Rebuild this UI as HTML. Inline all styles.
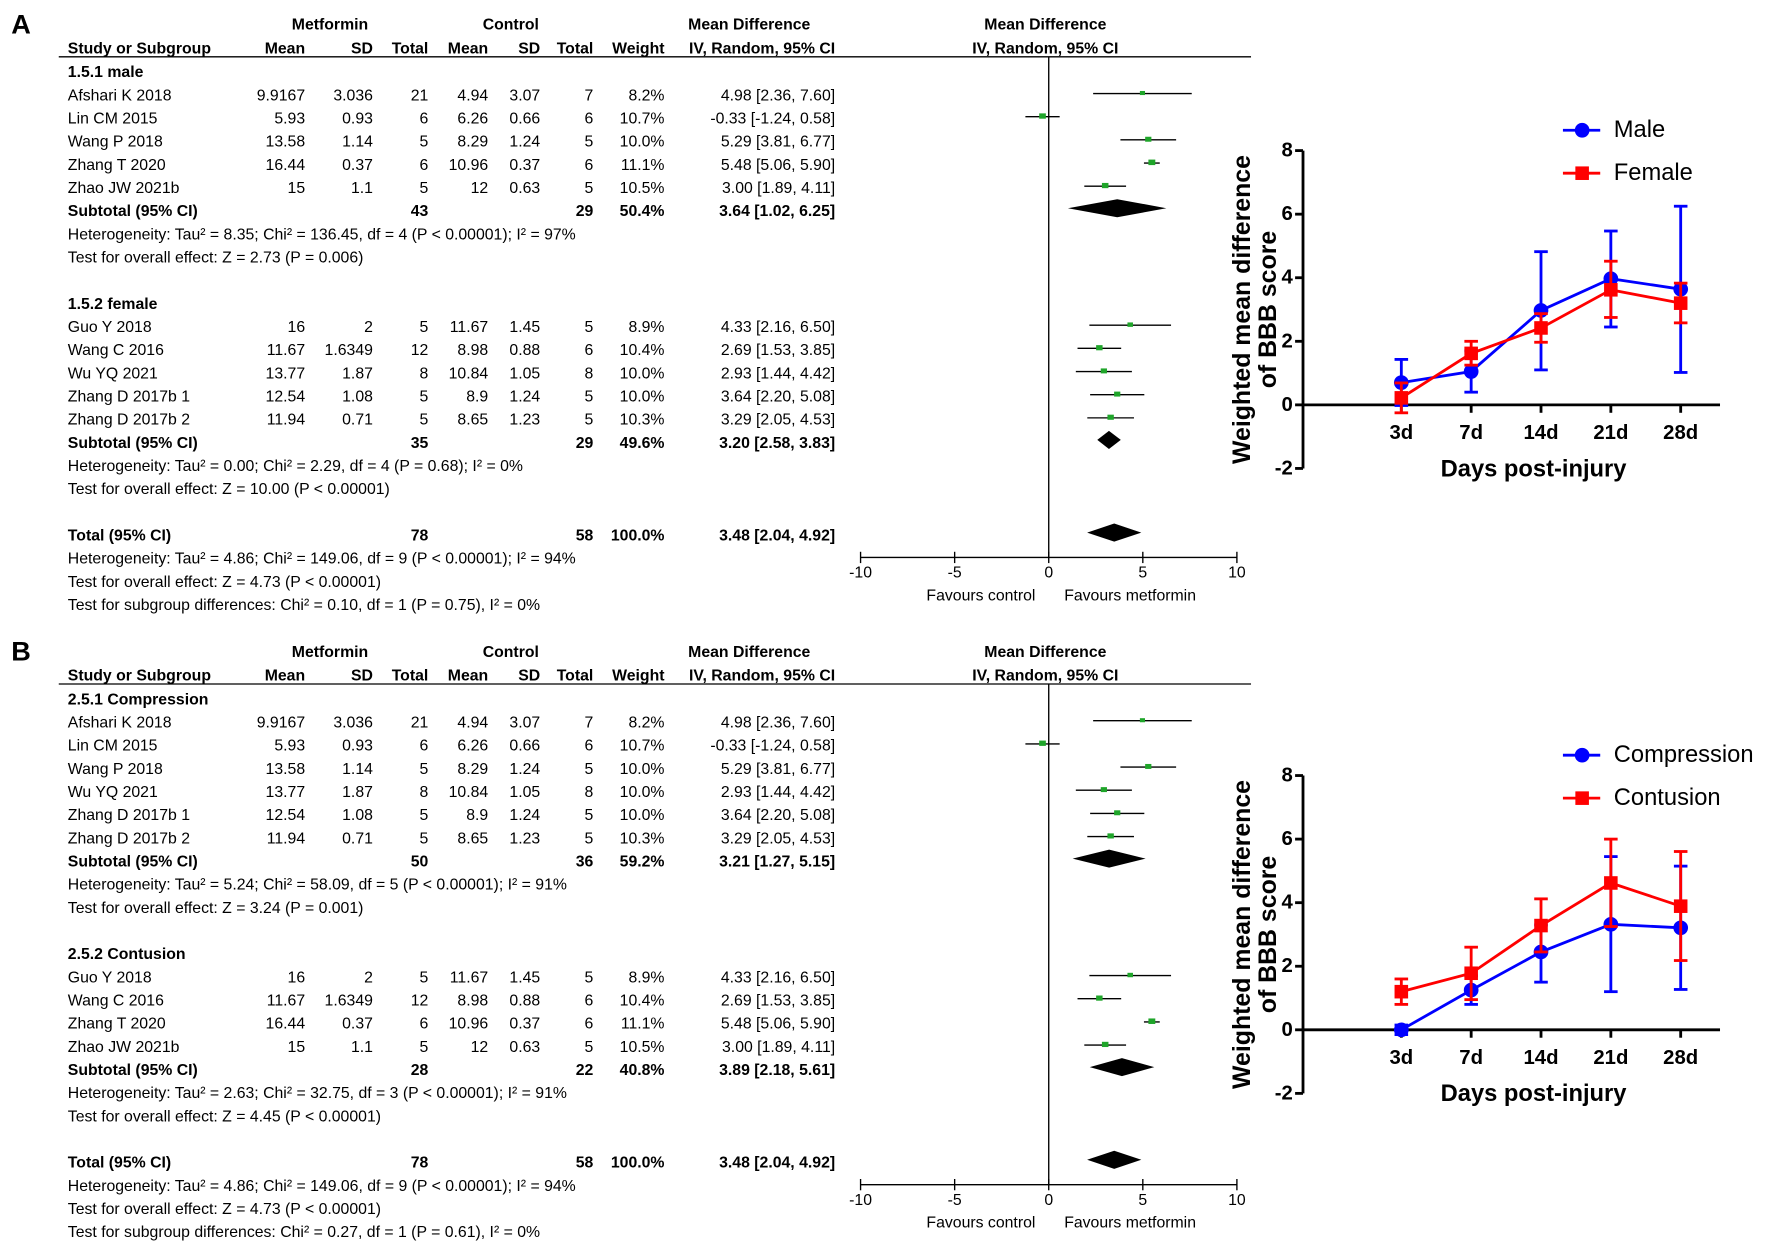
<!DOCTYPE html>
<html><head><meta charset="utf-8"><style>
html,body{margin:0;padding:0;background:#fff;}
svg{display:block;}
text{font-family:"Liberation Sans Narrow","Liberation Sans",Arial,sans-serif;}
.w{font-family:"Liberation Sans",Arial,sans-serif;}
</style></head><body>
<svg id="fig" width="1772" height="1255" viewBox="0 0 1568 1110" xmlns="http://www.w3.org/2000/svg">
<rect x="0" y="0" width="1568" height="1110" fill="#fff"/>
</svg>
<script>
// ---------- Forest plot data ----------
const groupA1 = "1.5.1 male";
const studiesA1 = [
 ["Afshari K 2018","9.9167","3.036",21,"4.94","3.07",7,"8.2%",4.98,2.36,7.60],
 ["Lin CM 2015","5.93","0.93",6,"6.26","0.66",6,"10.7%",-0.33,-1.24,0.58],
 ["Wang P 2018","13.58","1.14",5,"8.29","1.24",5,"10.0%",5.29,3.81,6.77],
 ["Zhang T 2020","16.44","0.37",6,"10.96","0.37",6,"11.1%",5.48,5.06,5.90],
 ["Zhao JW 2021b","15","1.1",5,"12","0.63",5,"10.5%",3.00,1.89,4.11]];
const subA1 = [43,29,"50.4%",3.64,1.02,6.25];
const hetA1 = ["Heterogeneity: Tau² = 8.35; Chi² = 136.45, df = 4 (P < 0.00001); I² = 97%","Test for overall effect: Z = 2.73 (P = 0.006)"];
const groupA2 = "1.5.2 female";
const studiesA2 = [
 ["Guo Y 2018","16","2",5,"11.67","1.45",5,"8.9%",4.33,2.16,6.50],
 ["Wang C 2016","11.67","1.6349",12,"8.98","0.88",6,"10.4%",2.69,1.53,3.85],
 ["Wu YQ 2021","13.77","1.87",8,"10.84","1.05",8,"10.0%",2.93,1.44,4.42],
 ["Zhang D 2017b 1","12.54","1.08",5,"8.9","1.24",5,"10.0%",3.64,2.20,5.08],
 ["Zhang D 2017b 2","11.94","0.71",5,"8.65","1.23",5,"10.3%",3.29,2.05,4.53]];
const subA2 = [35,29,"49.6%",3.20,2.58,3.83];
const hetA2 = ["Heterogeneity: Tau² = 0.00; Chi² = 2.29, df = 4 (P = 0.68); I² = 0%","Test for overall effect: Z = 10.00 (P < 0.00001)"];
const totalA = [78,58,"100.0%",3.48,2.04,4.92];
const totHetA = ["Heterogeneity: Tau² = 4.86; Chi² = 149.06, df = 9 (P < 0.00001); I² = 94%","Test for overall effect: Z = 4.73 (P < 0.00001)","Test for subgroup differences: Chi² = 0.10, df = 1 (P = 0.75), I² = 0%"];

const groupB1 = "2.5.1 Compression";
const studiesB1 = [
 ["Afshari K 2018","9.9167","3.036",21,"4.94","3.07",7,"8.2%",4.98,2.36,7.60],
 ["Lin CM 2015","5.93","0.93",6,"6.26","0.66",6,"10.7%",-0.33,-1.24,0.58],
 ["Wang P 2018","13.58","1.14",5,"8.29","1.24",5,"10.0%",5.29,3.81,6.77],
 ["Wu YQ 2021","13.77","1.87",8,"10.84","1.05",8,"10.0%",2.93,1.44,4.42],
 ["Zhang D 2017b 1","12.54","1.08",5,"8.9","1.24",5,"10.0%",3.64,2.20,5.08],
 ["Zhang D 2017b 2","11.94","0.71",5,"8.65","1.23",5,"10.3%",3.29,2.05,4.53]];
const subB1 = [50,36,"59.2%",3.21,1.27,5.15];
const hetB1 = ["Heterogeneity: Tau² = 5.24; Chi² = 58.09, df = 5 (P < 0.00001); I² = 91%","Test for overall effect: Z = 3.24 (P = 0.001)"];
const groupB2 = "2.5.2 Contusion";
const studiesB2 = [
 ["Guo Y 2018","16","2",5,"11.67","1.45",5,"8.9%",4.33,2.16,6.50],
 ["Wang C 2016","11.67","1.6349",12,"8.98","0.88",6,"10.4%",2.69,1.53,3.85],
 ["Zhang T 2020","16.44","0.37",6,"10.96","0.37",6,"11.1%",5.48,5.06,5.90],
 ["Zhao JW 2021b","15","1.1",5,"12","0.63",5,"10.5%",3.00,1.89,4.11]];
const subB2 = [28,22,"40.8%",3.89,2.18,5.61];
const hetB2 = ["Heterogeneity: Tau² = 2.63; Chi² = 32.75, df = 3 (P < 0.00001); I² = 91%","Test for overall effect: Z = 4.45 (P < 0.00001)"];
const totalB = [78,58,"100.0%",3.48,2.04,4.92];
const totHetB = ["Heterogeneity: Tau² = 4.86; Chi² = 149.06, df = 9 (P < 0.00001); I² = 94%","Test for overall effect: Z = 4.73 (P < 0.00001)","Test for subgroup differences: Chi² = 0.27, df = 1 (P = 0.61), I² = 0%"];
const forestTicks = [-10,-5,0,5,10];

// ---------- Line chart data ----------
const days = ["3d","7d","14d","21d","28d"];
const yTicks = [-2,0,2,4,6,8];
const maleMean = [0.70,1.05,2.97,3.97,3.64];
const maleLo = [-0.02,0.40,1.10,2.45,1.02];
const maleHi = [1.43,1.70,4.82,5.47,6.25];
const femaleMean = [0.22,1.62,2.42,3.62,3.20];
const femaleLo = [-0.25,1.25,1.97,2.75,2.58];
const femaleHi = [0.69,2.00,2.87,4.52,3.83];
const compMean = [0.00,1.25,2.45,3.32,3.21];
const compLo = [-0.15,0.80,1.50,1.20,1.27];
const compHi = [0.15,1.70,3.30,5.45,5.15];
const contMean = [1.20,1.78,3.28,4.62,3.89];
const contLo = [0.80,0.95,2.45,3.25,2.18];
const contHi = [1.60,2.60,4.12,6.00,5.61];

const NS="http://www.w3.org/2000/svg";
const svg=document.getElementById('fig');
function el(tag,attrs,parent){const e=document.createElementNS(NS,tag);for(const k in attrs)e.setAttribute(k,attrs[k]);(parent||svg).appendChild(e);return e;}
function txt(x,y,s,o,parent){o=o||{};const t=el('text',{x:x,y:y,'font-size':o.size||14,'text-anchor':o.anchor||'start','dominant-baseline':'central','font-weight':o.bold?'bold':'normal',fill:'#000'},parent);
 if(o.cls)t.setAttribute('class',o.cls);if(o.transform)t.setAttribute('transform',o.transform);t.textContent=s;return t;}

function forest(top, letter, labelsY, groups, total, totHet){
 const g=el('g',{});
 
 
 const fx=v=>928+v*16.65;
 let t=txt(10,top-1,letter,{size:24,bold:true,cls:'w'},g);
 
 const h1=top, h2=top+21;
 [["Metformin",292],["Control",452],["Mean Difference",663]].forEach(a=>{const e=txt(a[1],h1,a[0],{anchor:'middle',bold:true},g);});
 let e=txt(925,h1,"Mean Difference",{anchor:'middle',bold:true,cls:'w',size:14},g);
 e=txt(925,h2,"IV, Random, 95% CI",{anchor:'middle',bold:true,cls:'w',size:14},g);
 const cols=[[60,'start',"Study or Subgroup"],[270,'end',"Mean"],[330,'end',"SD"],[379,'end',"Total"],[432,'end',"Mean"],[478,'end',"SD"],[525,'end',"Total"],[588,'end',"Weight"],[739,'end',"IV, Random, 95% CI"]];
 cols.forEach(c=>{const x=txt(c[0],h2,c[2],{anchor:c[1],bold:true},g);});
 const hl=el('line',{x1:52,y1:top+28,x2:1107,y2:top+28,stroke:'#000','stroke-width':1.2},g);
 
 const r0=labelsY, step=20.5;
 const ry=i=>r0+i*step;
 const ciStr=(m,l,h)=>m.toFixed(2)+" ["+l.toFixed(2)+", "+h.toFixed(2)+"]";
 let idx=0;
 function diamond(s,y,name){const p=el('polygon',{points:`${fx(s[4])},${y} ${fx(s[3])},${y-8} ${fx(s[5])},${y} ${fx(s[3])},${y+8}`,fill:'#000'},g);
  }
 function sumRow(s,y,label,name){
  const a=txt(60,y,label,{bold:true},g);
  [[379,s[0]],[525,s[1]],[588,s[2]],[739,ciStr(s[3],s[4],s[5])]].forEach(c=>{const x=txt(c[0],y,String(c[1]),{anchor:'end',bold:true},g);});
  diamond(s,y-3,name+'-diamond');
 }
 groups.forEach((gr,gi)=>{
  let y=ry(idx);const gl=txt(60,y,gr.label,{bold:true},g);idx++;
  gr.studies.forEach(s=>{
   y=ry(idx);
   const nm=txt(60,y,s[0],{},g);
   const vals=[[270,s[1]],[330,s[2]],[379,s[3]],[432,s[4]],[478,s[5]],[525,s[6]],[588,s[7]],[739,ciStr(s[8],s[9],s[10])]];
   vals.forEach(v=>{const x=txt(v[0],y,String(v[1]),{anchor:'end'},g);});
   const ly=y-2;
   const ln=el('line',{x1:fx(s[9]),y1:ly,x2:fx(s[10]),y2:ly,stroke:'#000','stroke-width':1.2},g);
   
   const sz=parseFloat(s[7])*0.55;
   const sq=el('rect',{x:fx(s[8])-sz/2,y:ly-sz/2,width:sz,height:sz*0.8,fill:'#1fa52a'},g);
   
   idx++;
  });
  sumRow(gr.sub,ry(idx),"Subtotal (95% CI)",'subtotal');idx++;
  gr.het.forEach(h=>{const x=txt(60,ry(idx),h,{},g);idx++;});
  idx++;
 });
 sumRow(total,ry(idx),"Total (95% CI)",'total');idx++;
 totHet.forEach(h=>{const x=txt(60,ry(idx),h,{},g);idx++;});
 const axY=r0+429;
 const zl=el('line',{x1:fx(0),y1:top+28,x2:fx(0),y2:axY,stroke:'#000','stroke-width':1.2},g);
 
 const ax=el('line',{x1:fx(-10),y1:axY,x2:fx(10),y2:axY,stroke:'#000','stroke-width':1.2},g);
 
 forestTicks.forEach(v=>{const tk=el('line',{x1:fx(v),y1:axY-5,x2:fx(v),y2:axY+5,stroke:'#000','stroke-width':1.2},g);
  
  const tl=txt(fx(v),axY+14,String(v),{anchor:'middle',cls:'w',size:14},g);});
 let f=txt(868,axY+34,"Favours control",{anchor:'middle',cls:'w',size:14},g);
 f=txt(1000,axY+34,"Favours metformin",{anchor:'middle',cls:'w',size:14},g);
}
forest(22,"A",64,[{label:groupA1,studies:studiesA1,sub:subA1,het:hetA1},{label:groupA2,studies:studiesA2,sub:subA2,het:hetA2}],totalA,totHetA);
forest(577,"B",619,[{label:groupB1,studies:studiesB1,sub:subB1,het:hetB1},{label:groupB2,studies:studiesB2,sub:subB2,het:hetB2}],totalB,totHetB);

function lineChart(id,y8,y0,series){
 const g=el('g',{});
 
 
 const unit=(y0-y8)/8;
 const yS=v=>y0-v*unit;
 const xS=i=>1240+i*61.8;
 const ax=1153;
 const ya=el('line',{x1:ax,y1:yS(-2),x2:ax,y2:yS(8),stroke:'#000','stroke-width':2.5},g);
 
 const xa=el('line',{x1:ax,y1:y0,x2:1522,y2:y0,stroke:'#000','stroke-width':2.5},g);
 
 yTicks.forEach(v=>{const t=el('line',{x1:ax-7,y1:yS(v),x2:ax,y2:yS(v),stroke:'#000','stroke-width':2.5},g);
  
  const l=txt(ax-9,yS(v),String(v),{anchor:'end',bold:true,cls:'w',size:18},g);});
 days.forEach((d,i)=>{const t=el('line',{x1:xS(i),y1:y0,x2:xS(i),y2:y0+7,stroke:'#000','stroke-width':2.5},g);
  
  const l=txt(xS(i),y0+25,d,{anchor:'middle',bold:true,cls:'w',size:18},g);});
 let t=txt(1357,y0+57,"Days post-injury",{anchor:'middle',bold:true,cls:'w',size:21},g);
 const cy=yS(3);
 t=txt(1099,cy,"Weighted mean difference",{anchor:'middle',bold:true,cls:'w',size:22,transform:`rotate(-90 1099 ${cy})`},g);
 t=txt(1122,cy,"of BBB score",{anchor:'middle',bold:true,cls:'w',size:22,transform:`rotate(-90 1122 ${cy})`},g);
 series.forEach((s,si)=>{
  const sg=el('g',{},g);
  
  
  s.mean.forEach((m,i)=>{
   const e=el('line',{x1:xS(i),y1:yS(s.lo[i]),x2:xS(i),y2:yS(s.hi[i]),stroke:s.color,'stroke-width':2.5},sg);
   
   [s.lo[i],s.hi[i]].forEach(v=>{const c=el('line',{x1:xS(i)-6,y1:yS(v),x2:xS(i)+6,y2:yS(v),stroke:s.color,'stroke-width':2.5},sg);
    });
  });
  const pl=el('polyline',{points:s.mean.map((m,i)=>xS(i)+','+yS(m)).join(' '),fill:'none',stroke:s.color,'stroke-width':2.5},sg);
  
  s.mean.forEach((m,i)=>{
   let mk;
   if(s.shape==='circle') mk=el('circle',{cx:xS(i),cy:yS(m),r:6.5,fill:s.color},sg);
   else mk=el('rect',{x:xS(i)-6,y:yS(m)-6,width:12,height:12,fill:s.color},sg);
   
  });
  const ly=y8-18+si*38;
  const lg=el('g',{},g);
  
  
  el('line',{x1:1383,y1:ly,x2:1416,y2:ly,stroke:s.color,'stroke-width':2.5},lg);
  if(s.shape==='circle') el('circle',{cx:1400,cy:ly,r:6.5,fill:s.color},lg);
  else el('rect',{x:1394,y:ly-6,width:12,height:12,fill:s.color},lg);
  txt(1428,ly,s.name,{cls:'w',size:21},lg);
 });
}
lineChart('a',133,358,[
 {name:"Male",mean:maleMean,lo:maleLo,hi:maleHi,color:'#0000ff',shape:'circle'},
 {name:"Female",mean:femaleMean,lo:femaleLo,hi:femaleHi,color:'#ff0000',shape:'square'}]);
lineChart('b',686,911,[
 {name:"Compression",mean:compMean,lo:compLo,hi:compHi,color:'#0000ff',shape:'circle'},
 {name:"Contusion",mean:contMean,lo:contLo,hi:contHi,color:'#ff0000',shape:'square'}]);
</script>
</body></html>
